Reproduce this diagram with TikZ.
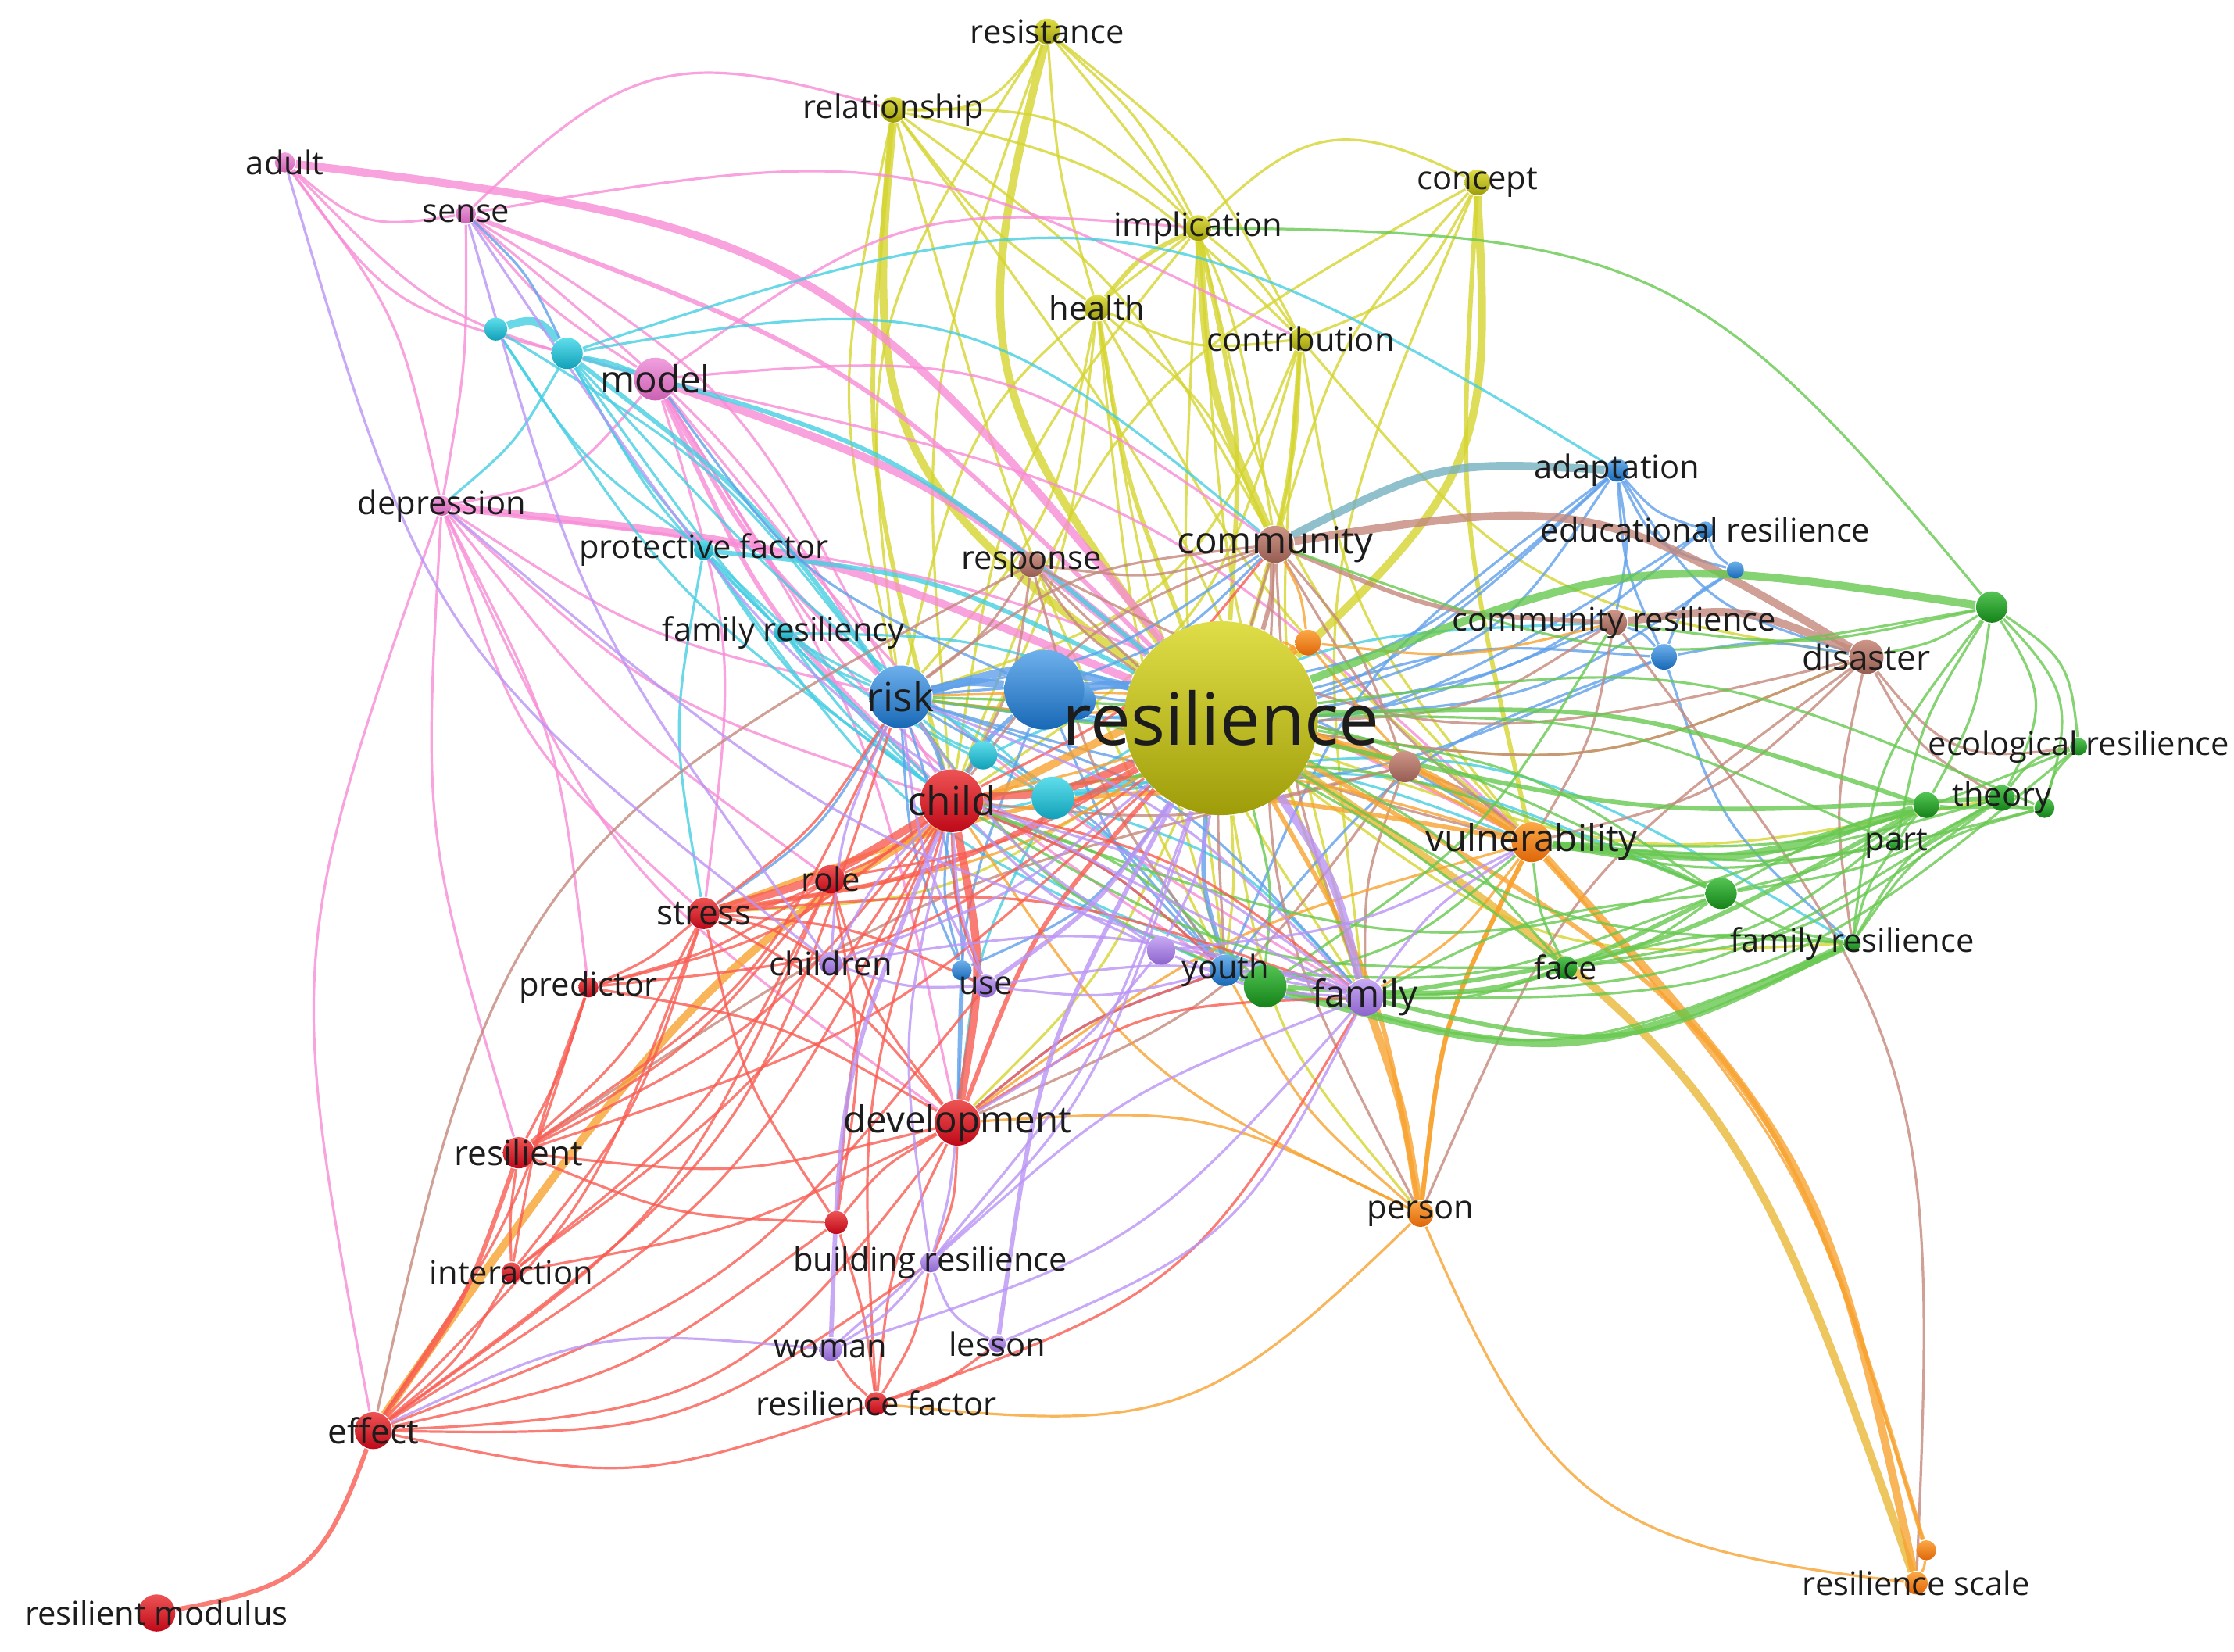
\documentclass[tikz,border=0pt]{standalone}
\usepackage{fontspec}
\setmainfont{Open Sans}
% cluster colours (node top / node bottom / link)
\definecolor{ylTop}{RGB}{224,222,72}
\definecolor{ylBot}{RGB}{158,156,8}
\definecolor{ylLink}{RGB}{212,212,48}
\definecolor{pkTop}{RGB}{240,160,222}
\definecolor{pkBot}{RGB}{204,96,178}
\definecolor{pkLink}{RGB}{248,140,214}
\definecolor{cyTop}{RGB}{96,222,236}
\definecolor{cyBot}{RGB}{16,160,184}
\definecolor{cyLink}{RGB}{70,206,226}
\definecolor{blTop}{RGB}{110,176,236}
\definecolor{blBot}{RGB}{24,104,182}
\definecolor{blLink}{RGB}{96,160,234}
\definecolor{brTop}{RGB}{206,150,136}
\definecolor{brBot}{RGB}{150,92,82}
\definecolor{brLink}{RGB}{196,136,124}
\definecolor{orTop}{RGB}{252,168,70}
\definecolor{orBot}{RGB}{222,102,8}
\definecolor{orLink}{RGB}{248,162,48}
\definecolor{grTop}{RGB}{84,196,84}
\definecolor{grBot}{RGB}{20,130,24}
\definecolor{grLink}{RGB}{104,200,80}
\definecolor{rdTop}{RGB}{238,84,84}
\definecolor{rdBot}{RGB}{190,8,24}
\definecolor{rdLink}{RGB}{248,92,82}
\definecolor{puTop}{RGB}{200,170,244}
\definecolor{puBot}{RGB}{140,100,204}
\definecolor{puLink}{RGB}{186,148,244}
\definecolor{mixLink}{RGB}{232,184,56}
\definecolor{tealLink}{RGB}{116,176,190}
\definecolor{ink}{RGB}{28,28,28}
\pgfdeclarelayer{links}
\pgfsetlayers{links,main}
\tikzset{
  kw/.style={circle, inner sep=0pt, draw=none},
  rad/.style={minimum size={#1*0.2mm}},
  nyl/.style={kw, top color=ylTop, bottom color=ylBot},
  npk/.style={kw, top color=pkTop, bottom color=pkBot},
  ncy/.style={kw, top color=cyTop, bottom color=cyBot},
  nbl/.style={kw, top color=blTop, bottom color=blBot},
  nbr/.style={kw, top color=brTop, bottom color=brBot},
  nor/.style={kw, top color=orTop, bottom color=orBot},
  ngr/.style={kw, top color=grTop, bottom color=grBot},
  nrd/.style={kw, top color=rdTop, bottom color=rdBot},
  npu/.style={kw, top color=puTop, bottom color=puBot},
  lnk/.style={line width=0.5pt, opacity=0.8, looseness=1.3},
  lnkm/.style={line width=0.9pt, opacity=0.8, looseness=1.3},
  lnkx/.style={line width=1.6pt, opacity=0.8, looseness=1.3},
  lbl/.style={text=ink, inner sep=0pt, font=\fontsize{6.5}{7}\selectfont},
  lblk/.style={lbl, font=\fontsize{6.9}{8}\selectfont},
  lblm/.style={lbl, font=\fontsize{7.4}{8}\selectfont},
  lbll/.style={lbl, font=\fontsize{8}{9}\selectfont},
  lblx/.style={lbl, font=\fontsize{14.4}{16}\selectfont}
}
\begin{document}
\begin{tikzpicture}[x=0.01cm, y=-0.01cm]
  \useasboundingbox (0,0) rectangle (1568,1159);
  % yellow cluster
  \node[nyl, rad=9] (resistance) at (735,22) {};
  \node[nyl, rad=9] (relationship) at (627,77) {};
  \node[nyl, rad=9] (concept) at (1037,128) {};
  \node[nyl, rad=9] (implication) at (841,160) {};
  \node[nyl, rad=9] (health) at (770,216) {};
  \node[nyl, rad=8] (contribution) at (913,238) {};
  % pink cluster
  \node[npk, rad=7] (adult) at (200,114) {};
  \node[npk, rad=7] (sense) at (327,150) {};
  \node[npk, rad=15] (model) at (460,266) {};
  \node[npk, rad=7] (depression) at (310,355) {};
  % cyan cluster
  \node[ncy, rad=8] (cyA) at (348,231) {};
  \node[ncy, rad=11] (cyB) at (398,248) {};
  \node[ncy, rad=7] (protective) at (494,386) {};
  \node[ncy, rad=7] (resiliency) at (550,444) {};
  \node[ncy, rad=10] (cyC) at (690,530) {};
  \node[ncy, rad=15] (cyD) at (739,560) {};
  % blue cluster
  \node[nbl, rad=13] (blB) at (756,492) {};
  \node[nbl, rad=28] (blA) at (733,484) {};
  \node[nbl, rad=22] (risk) at (632,489) {};
  \node[nbl, rad=8] (adaptation) at (1135,330) {};
  \node[nbl, rad=6] (educational) at (1197,372) {};
  \node[nbl, rad=6] (blC) at (1218,400) {};
  \node[nbl, rad=9] (blD) at (1168,461) {};
  \node[nbl, rad=11] (youth) at (860,681) {};
  \node[nbl, rad=7] (blE) at (675,681) {};
  % brown cluster
  \node[nbr, rad=9] (response) at (724,396) {};
  \node[nbr, rad=13] (community) at (895,382) {};
  \node[nbr, rad=9] (commres) at (1133,437) {};
  \node[nbr, rad=12] (disaster) at (1310,461) {};
  % green cluster
  \node[ngr, rad=11] (grA) at (1398,426) {};
  \node[ngr, rad=6] (ecological) at (1459,524) {};
  \node[ngr, rad=9] (theory) at (1405,560) {};
  \node[ngr, rad=9] (grB) at (1352,565) {};
  \node[ngr, rad=7] (grC) at (1435,567) {};
  \node[ngr, rad=5] (part) at (1331,592) {};
  \node[ngr, rad=11] (grD) at (1208,627) {};
  \node[ngr, rad=6] (famres) at (1300,662) {};
  \node[ngr, rad=8] (face) at (1099,679) {};
  \node[ngr, rad=15] (grE) at (888,692) {};
  % red cluster
  \node[nrd, rad=22] (child) at (668,562) {};
  \node[nrd, rad=10] (role) at (583,617) {};
  \node[nrd, rad=11] (stress) at (494,641) {};
  \node[nrd, rad=7] (predictor) at (413,693) {};
  \node[nrd, rad=16] (development) at (672,788) {};
  \node[nrd, rad=11] (resilient) at (364,809) {};
  \node[nrd, rad=8] (rdA) at (587,858) {};
  \node[nrd, rad=7] (interaction) at (359,893) {};
  \node[nrd, rad=8] (resfactor) at (615,985) {};
  \node[nrd, rad=13] (effect) at (262,1004) {};
  \node[nrd, rad=13] (modulus) at (110,1132) {};
  % purple cluster
  \node[npu, rad=8] (children) at (583,676) {};
  \node[npu, rad=8] (use) at (692,692) {};
  \node[npu, rad=10] (puA) at (815,667) {};
  \node[npu, rad=13] (family) at (958,700) {};
  \node[npu, rad=7] (building) at (653,886) {};
  \node[npu, rad=8] (woman) at (583,947) {};
  \node[npu, rad=6] (lesson) at (700,943) {};
  % orange cluster
  \node[nor, rad=14] (vulnerability) at (1075,591) {};
  \node[nor, rad=9] (person) at (997,852) {};
  \node[nor, rad=7] (orB) at (1352,1088) {};
  \node[nor, rad=8] (scale) at (1345,1111) {};
  % main node
  \node[nyl, rad=68] (resilience) at (857,504) {};
  \node[nor, rad=9] (orA) at (918,451) {};
  \node[nbr, rad=11] (brA) at (986,538) {};

  \begin{pgfonlayer}{links}
  % links: yellow
  \foreach \a/\b/\bb in {resilience/resistance/25, resilience/relationship/30,
      resilience/concept/-25, implication/community/-10}
    \draw[lnkx, ylLink] (\a) to[bend left=\bb] (\b);
  \foreach \a/\b/\bb in {resilience/health/6, resilience/implication/-8,
      resilience/contribution/-6, relationship/child/-10, implication/health/-12,
      concept/vulnerability/-8}
    \draw[lnkm, ylLink] (\a) to[bend left=\bb] (\b);
  \foreach \a/\b/\bb in {resistance/relationship/28, resistance/implication/10,
      resistance/health/-6, resistance/contribution/12, resistance/community/15,
      resistance/child/-12, resistance/risk/-20, relationship/implication/22,
      relationship/contribution/15, relationship/health/-8, relationship/community/12,
      relationship/risk/-12, relationship/youth/-5, relationship/family/8,
      implication/concept/35, implication/contribution/8, implication/child/-15,
      implication/risk/-20, implication/family/-8, implication/vulnerability/-15,
      implication/youth/-5, concept/contribution/20, concept/community/-12,
      concept/family/-15, concept/child/-20, health/contribution/-15,
      health/child/10, health/risk/15, health/youth/-5, health/family/-12,
      health/community/12, health/vulnerability/-10, contribution/community/5,
      contribution/vulnerability/-15, contribution/family/-10, contribution/child/20,
      contribution/risk/25, contribution/disaster/-20, resilience/disaster/-15,
      resilience/famres/-20, resilience/theory/-15, resilience/development/10,
      resilience/stress/15, resilience/person/-15, resilience/youth/5}
    \draw[lnk, ylLink] (\a) to[bend left=\bb] (\b);
  % links: pink
  \foreach \a/\b/\bb in {adult/resilience/22, model/resilience/10,
      depression/resilience/8}
    \draw[lnkx, pkLink] (\a) to[bend left=\bb] (\b);
  \foreach \a/\b/\bb in {sense/resilience/12, model/risk/-8, model/child/-10}
    \draw[lnkm, pkLink] (\a) to[bend left=\bb] (\b);
  \foreach \a/\b/\bb in {adult/sense/-25, adult/model/-15, adult/depression/12,
      adult/cyB/-20, sense/model/-8, sense/depression/5, sense/risk/15,
      sense/child/10, sense/relationship/30, sense/contribution/18,
      model/implication/20, model/depression/20, model/stress/12,
      model/development/10, model/community/20, model/family/-10, model/youth/-12,
      model/vulnerability/15, depression/effect/-15, depression/risk/-10,
      depression/child/-12, depression/stress/-15, depression/predictor/10,
      depression/resilient/-10, depression/development/-15,
      depression/vulnerability/10, depression/role/-8}
    \draw[lnk, pkLink] (\a) to[bend left=\bb] (\b);
  % links: cyan
  \draw[lnkx, cyLink] (cyA) to[bend left=35] (cyB);
  \foreach \a/\b/\bb in {cyB/risk/8, cyB/resilience/12, protective/resilience/10,
      cyD/resilience/-10}
    \draw[lnkm, cyLink] (\a) to[bend left=\bb] (\b);
  \foreach \a/\b/\bb in {cyA/protective/-10, cyA/risk/10, cyA/child/-10,
      cyB/model/5, cyB/child/-5, cyB/resiliency/-8, cyB/cyD/-5,
      cyB/depression/10, cyB/community/25, cyB/adaptation/25, cyB/protective/-5,
      protective/risk/-10, protective/child/-10, protective/cyD/-8,
      protective/stress/-10, protective/youth/-15, resiliency/risk/-8,
      resiliency/resilience/8, resiliency/child/-8, resiliency/family/-15,
      cyC/child/-10, cyC/resilience/10, cyC/risk/10, cyD/child/10, cyD/risk/-10,
      cyD/youth/10, cyD/family/15, cyD/development/-10, cyD/vulnerability/15,
      cyD/famres/20, cyD/commres/15, cyD/grD/15}
    \draw[lnk, cyLink] (\a) to[bend left=\bb] (\b);
  % links: blue
  \foreach \a/\b/\bb in {blA/risk/-10, blA/resilience/10, risk/resilience/15}
    \draw[lnkx, blLink] (\a) to[bend left=\bb] (\b);
  \draw[lnkx, tealLink] (adaptation) to[bend left=-15] (community);
  \foreach \a/\b/\bb in {risk/child/10, blA/child/-10, youth/resilience/10}
    \draw[lnkm, blLink] (\a) to[bend left=\bb] (\b);
  \foreach \a/\b/\bb in {blA/youth/-10, blA/adaptation/-20, blA/commres/-15,
      blA/community/-12, blA/model/15, blA/development/-10, risk/stress/12,
      risk/development/10, risk/youth/10, risk/family/15, risk/vulnerability/18,
      risk/community/-12, adaptation/resilience/20, adaptation/blC/-25,
      adaptation/educational/-15, adaptation/blD/-10, adaptation/commres/10,
      adaptation/disaster/-20, adaptation/risk/25, adaptation/youth/-15,
      educational/blC/-15, educational/resilience/15, educational/risk/20,
      blC/blD/-20, blC/resilience/15, blD/commres/-15, blD/resilience/-10,
      blD/disaster/10, blD/youth/-15, blD/risk/20, blD/famres/-15,
      youth/family/-15, youth/child/-10, youth/development/-10, blE/use/-10,
      blE/child/10, blE/resilience/-15, blE/risk/10, sense/cyB/10}
    \draw[lnk, blLink] (\a) to[bend left=\bb] (\b);
  % links: brown
  \foreach \a/\b/\bb in {community/disaster/20, commres/disaster/15}
    \draw[lnkx, brLink] (\a) to[bend left=\bb] (\b);
  \foreach \a/\b/\bb in {community/resilience/8, community/commres/-10}
    \draw[lnkm, brLink] (\a) to[bend left=\bb] (\b);
  \foreach \a/\b/\bb in {community/response/12, community/vulnerability/-10,
      community/risk/-15, community/youth/-10, community/family/-8,
      community/person/-15, community/brA/10, community/child/-15,
      commres/resilience/15, commres/vulnerability/10, commres/scale/20,
      disaster/vulnerability/15, disaster/resilience/15, disaster/response/20,
      disaster/ecological/-30, disaster/theory/-15, disaster/famres/-10,
      disaster/person/-15, response/resilience/-10, response/risk/10,
      response/child/10, response/youth/-10, response/vulnerability/-15,
      brA/resilience/-10, brA/family/-10, brA/vulnerability/10,
      brA/development/15, brA/child/10, effect/response/25, resilient/brA/10}
    \draw[lnk, brLink] (\a) to[bend left=\bb] (\b);
  % links: orange
  \draw[lnkx, mixLink] (resilience) to[bend left=18] (scale);
  \foreach \a/\b/\bb in {vulnerability/scale/15, vulnerability/resilience/-10,
      person/family/-5, effect/orA/15}
    \draw[lnkx, orLink] (\a) to[bend left=\bb] (\b);
  \foreach \a/\b/\bb in {resilience/orB/22, vulnerability/person/-10,
      person/vulnerability/10, person/resilience/-10, vulnerability/stress/-15}
    \draw[lnkm, orLink] (\a) to[bend left=\bb] (\b);
  \foreach \a/\b/\bb in {vulnerability/orB/12, person/scale/-30, orB/scale/10,
      resfactor/person/-25, person/development/-15, person/youth/10,
      person/child/15, vulnerability/risk/-15, vulnerability/child/-12,
      vulnerability/family/10, vulnerability/development/-10,
      vulnerability/orA/10, orA/resilience/-10, orA/risk/15, orA/child/12,
      orA/community/-10, orA/stress/15, orA/commres/-10}
    \draw[lnk, orLink] (\a) to[bend left=\bb] (\b);
  % links: green
  \foreach \a/\b/\bb in {grA/resilience/-15, grB/vulnerability/12,
      grE/famres/-20}
    \draw[lnkx, grLink] (\a) to[bend left=\bb] (\b);
  \foreach \a/\b/\bb in {grB/resilience/-10, theory/resilience/8, grB/family/10,
      family/famres/-20, grE/grD/-15}
    \draw[lnkm, grLink] (\a) to[bend left=\bb] (\b);
  \foreach \a/\b/\bb in {grA/theory/30, grA/ecological/25, grA/grC/30,
      grA/disaster/10, grA/community/15, grA/commres/10, grA/famres/-15,
      grA/part/-10, grA/grB/10, implication/grA/25, theory/ecological/20,
      theory/grB/10, theory/grC/-15, theory/vulnerability/10, theory/family/15,
      theory/famres/-15, theory/grD/10, theory/face/15, grB/grD/10, grB/part/-5,
      grB/face/15, grB/child/20, grC/ecological/15, grC/grD/-15,
      grC/famres/-20, grC/resilience/-15, grC/vulnerability/10,
      ecological/vulnerability/12, ecological/family/20, part/vulnerability/10,
      part/resilience/-12, part/famres/-10, grD/resilience/-12,
      grD/famres/-10, grD/vulnerability/-8, grD/face/10, grD/family/-10,
      grD/child/-15, grD/youth/12, grD/risk/-12, famres/resilience/15,
      famres/face/-10, famres/youth/20, face/resilience/-10,
      face/vulnerability/10, face/family/10, face/child/15, face/risk/-15,
      grE/resilience/-10, grE/family/-10, grE/youth/10, grE/child/-12,
      grE/risk/15, grE/vulnerability/-12, grE/commres/-12}
    \draw[lnk, grLink] (\a) to[bend left=\bb] (\b);
  % links: red
  \foreach \a/\b/\bb in {stress/child/-8, child/development/10,
      child/resilience/-10}
    \draw[lnkx, rdLink] (\a) to[bend left=\bb] (\b);
  \foreach \a/\b/\bb in {effect/modulus/30, effect/resilient/-8,
      development/resilience/10, stress/resilience/-10}
    \draw[lnkm, rdLink] (\a) to[bend left=\bb] (\b);
  \foreach \a/\b/\bb in {effect/interaction/-10, effect/stress/-12,
      effect/child/-15, effect/development/-25, effect/predictor/-8,
      effect/role/-15, effect/resfactor/-15, effect/risk/-18, effect/rdA/-12,
      effect/use/-15, effect/building/-18, resilient/interaction/-5,
      resilient/stress/-10, resilient/child/-12, resilient/development/-10,
      resilient/predictor/-5, resilient/role/-10, resilient/resilience/-12,
      resilient/risk/-15, resilient/rdA/-10, interaction/stress/-10,
      interaction/child/-10, interaction/development/-8, interaction/role/-12,
      interaction/predictor/5, stress/role/-10, stress/development/10,
      stress/predictor/8, stress/children/10, stress/risk/-10, stress/use/10,
      stress/family/12, predictor/child/-12, predictor/development/10,
      predictor/role/-8, predictor/resilience/-15, child/role/8, child/use/-10,
      child/youth/10, child/family/12, child/rdA/-10, child/community/-12,
      role/development/-10, role/resilience/-10, role/rdA/10,
      development/rdA/-10, development/building/10, development/youth/10,
      development/family/15, development/resfactor/-10, rdA/resfactor/5,
      rdA/stress/10, resfactor/woman/8, resfactor/building/-10,
      resfactor/family/-20, resfactor/lesson/-10, resfactor/child/10}
    \draw[lnk, rdLink] (\a) to[bend left=\bb] (\b);
  % links: purple
  \draw[lnkx, puLink] (family) to[bend left=-10] (resilience);
  \foreach \a/\b/\bb in {lesson/resilience/10, woman/child/10,
      use/resilience/-10}
    \draw[lnkm, puLink] (\a) to[bend left=\bb] (\b);
  \foreach \a/\b/\bb in {family/youth/-10, family/children/-12, family/use/-10,
      woman/family/-15, lesson/family/-20, family/building/-10,
      family/child/-10, family/risk/-12, family/puA/10, family/vulnerability/10,
      children/use/-10, children/child/8, children/resilience/-10,
      children/risk/10, use/child/8, use/risk/10, use/youth/-10,
      building/woman/10, building/lesson/-20, building/resilience/-10,
      building/child/10, building/development/-5, woman/resilience/-15,
      puA/resilience/-8, puA/child/10, puA/risk/10, puA/development/10,
      puA/vulnerability/-10, effect/woman/15, adult/children/-18,
      sense/family/-15, sense/children/-10, depression/family/-12}
    \draw[lnk, puLink] (\a) to[bend left=\bb] (\b);
  \end{pgfonlayer}

  % labels
  \foreach \n/\t in {resistance/resistance, relationship/relationship,
      concept/concept, implication/implication, health/health,
      contribution/contribution, adult/adult, sense/sense,
      depression/depression, protective/protective factor,
      resiliency/family resiliency, adaptation/adaptation,
      educational/educational resilience, youth/youth, response/response,
      commres/community resilience, person/person,
      scale/resilience scale, ecological/ecological resilience, theory/theory,
      part/part, famres/family resilience, face/face, role/role,
      predictor/predictor, interaction/interaction,
      resfactor/resilience factor, modulus/resilient modulus,
      children/children, use/use, building/building resilience,
      woman/woman, lesson/lesson}
    \node[lbl] (\n-t) at (\n) {\t};
  \foreach \n in {effect, resilient, stress, disaster}
    \node[lblk] (\n-t) at (\n) {\n};
  \foreach \n in {model, community, vulnerability, development, family}
    \node[lblm] (\n-t) at (\n) {\n};
  \foreach \n in {risk, child}
    \node[lbll] (\n-t) at (\n) {\n};
  \node[lblx] (resilience-t) at (resilience) {resilience};
\end{tikzpicture}
\end{document}
